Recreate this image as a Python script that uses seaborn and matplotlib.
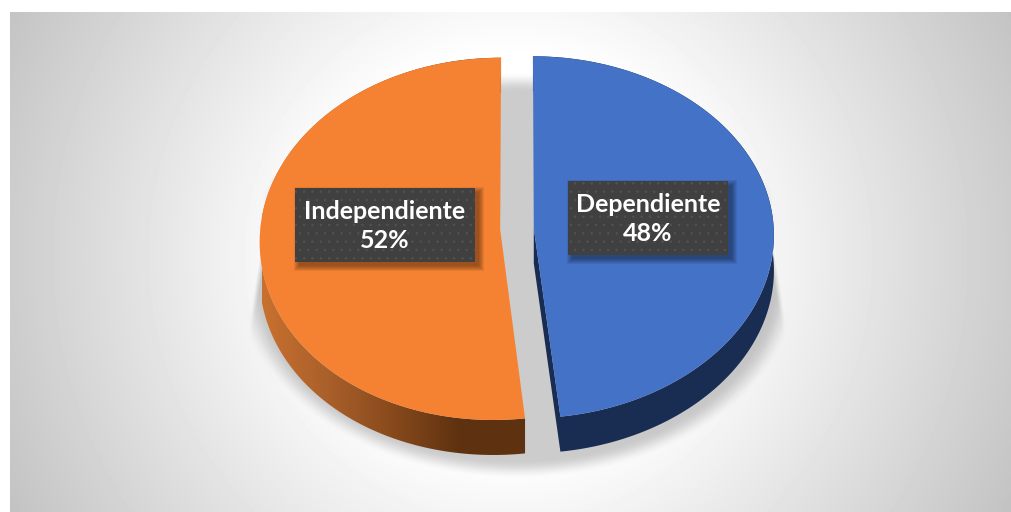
import numpy as np
import matplotlib
matplotlib.use("Agg")
import matplotlib.pyplot as plt
import seaborn as sns
from matplotlib.colors import LinearSegmentedColormap
from matplotlib.patches import PathPatch, Rectangle
from matplotlib.path import Path
from matplotlib.transforms import Transform

# Survey shares
categories = ["Dependiente", "Independiente"]
shares = [48, 52]

sns.set_theme(style="white")
plt.rcParams["font.family"] = ["Lato", "DejaVu Sans"]
plt.rcParams["hatch.linewidth"] = 0.5
top_colors = sns.color_palette(["#4472C6", "#F58233"])

W, H = 1011, 512
CX, CY, RX, RY, PERSP, BOW, DEPTH = 517, 229, 240, 180.6, 0.05, 3.0, 35


class TiltedDisc(Transform):
    """Projects the unit pie onto a tilted disc, nearer at the front."""
    input_dims = 2
    output_dims = 2
    is_separable = False
    has_inverse = False

    def transform_non_affine(self, values):
        v = np.asarray(values, dtype=float)
        x, y = v[:, 0], v[:, 1]
        w = 1 + PERSP * y
        return np.column_stack([CX + RX * x / w + BOW * (y - y * y), CY - RY * y / w])


disc = TiltedDisc()

fig = plt.figure(figsize=(W / 100, H / 100), dpi=100, facecolor="white")
ax = fig.add_axes([0, 0, 1, 1])

wedges, _ = ax.pie(shares, colors=top_colors, startangle=90, counterclock=False,
                   explode=[0.07, 0.07], radius=1)
ax.set_aspect("auto")

# Grey radial backdrop
yy, xx = np.mgrid[12:H, 10:W]
dist = np.hypot(xx - 510, yy - 255)
shade = np.clip(255 - 60 * (dist - 200) / 360, 190, 255) / 255
ax.imshow(shade, cmap="gray", vmin=0, vmax=1, extent=(10, W, H, 12), aspect="auto", zorder=0)

# Soft shadow cast under the disc, with slanted side limits
yy, xx = np.mgrid[0:H, 0:W]
r = np.hypot((xx - 517) / 275, (yy - 275) / 198)
t = np.clip((1.03 - r) / 0.1, 0, 1)
half_width = np.clip(255 + (yy - 240) / 90 * 15, 255, 272)
side = np.clip((half_width - np.abs(xx - 517)) / 5, 0, 1)
alpha = 0.2 * t * t * (3 - 2 * t) * side
overlay = np.zeros((H, W, 4))
overlay[..., 3] = alpha
ax.imshow(overlay, extent=(0, W, H, 0), aspect="auto", zorder=1)


def side_outline(wedge, with_apex):
    """Pixel outline of a slice's extruded rim."""
    th = np.radians(np.linspace(wedge.theta1, wedge.theta2, 240))
    cx, cy = wedge.center
    arc = disc.transform_non_affine(np.column_stack([cx + np.cos(th), cy + np.sin(th)]))
    low = arc[::-1] + [0, DEPTH]
    pts = [arc, low]
    if with_apex:
        apex = disc.transform_non_affine(np.array([[cx, cy]]))
        pts = [apex, arc, low, apex + [0, DEPTH]]
    pts = np.vstack(pts)
    return Path(np.vstack([pts, pts[:1]]), closed=True)


# Rim of the blue slice in flat navy
ax.add_patch(PathPatch(side_outline(wedges[0], True), facecolor="#192D52", edgecolor="none", zorder=2))

# Rim of the orange slice, darkening towards the front
rim_cmap = LinearSegmentedColormap.from_list("rim", ["#C9702F", "#A9602A", "#87491C", "#5E3210", "#5E3210"])
ramp = np.linspace(0, 1, 256)[None, :]
rim = ax.imshow(ramp, cmap=rim_cmap, extent=(262, 526, H, 0), aspect="auto", zorder=2)
rim_clip = PathPatch(side_outline(wedges[1], False), transform=ax.transData, facecolor="none", edgecolor="none")
ax.add_patch(rim_clip)
rim.set_clip_path(rim_clip)

for wedge in wedges:
    wedge.set_transform(disc + ax.transData)
    wedge.set_zorder(3)
    wedge.set_edgecolor("none")

# Data labels on dark dotted plates
plates = [(568, 181, 160, 74), (295, 188, 180, 74)]
for name, share, (px, py, pw, ph) in zip(categories, shares, plates):
    for grow in range(6):
        ax.add_patch(Rectangle((px + 4 - grow, py + 4 - grow), pw + 2 * grow, ph + 2 * grow,
                               facecolor="black", edgecolor="none", alpha=0.07, zorder=4))
    ax.add_patch(Rectangle((px, py), pw, ph, facecolor="#404040", edgecolor="#525252",
                           linewidth=0, hatch="..", zorder=5))
    ax.text(px + pw / 2, py + ph / 2 + 1, f"{name}\n{share}%", color="white", fontsize=18,
            fontweight="bold", ha="center", va="center", linespacing=1.32, zorder=6)

ax.set_xlim(0, W)
ax.set_ylim(H, 0)
ax.set_axis_off()
fig.savefig("out.png", dpi=100)
